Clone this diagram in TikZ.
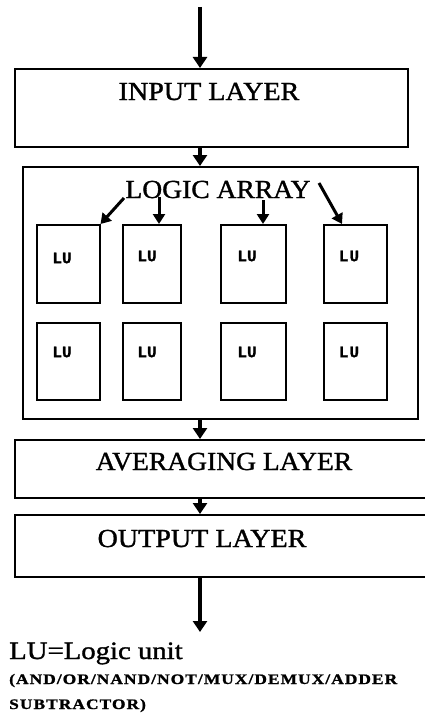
\documentclass[tikz,border=0pt]{standalone}
\usepackage{fontspec}
\setmainfont{Liberation Serif}
\newfontfamily\heavyserif{Liberation Serif}[FakeBold=1.2]
\newfontfamily\blackserif{Liberation Serif}[UprightFont={* Bold}, FakeBold=1.2]
\newfontfamily\lumono{Liberation Mono}[UprightFont={* Bold}, FakeBold=1.5]
\usetikzlibrary{arrows.meta}

\tikzset{
  panel/.style={draw=black, line width=1.6pt, fill=none, inner sep=0pt, anchor=north west},
  lubox/.style={draw=black, line width=1.5pt, inner sep=0pt, anchor=north west},
  title/.style={anchor=base, inner sep=0pt, font=\heavyserif\fontsize{26}{30}\selectfont},
  lutext/.style={inner sep=0pt, font=\lumono\fontsize{16}{17}\selectfont},
  bigarrow/.style={line width=3.6pt, -{Triangle[width=14pt,length=11pt]}},
  smallarrow/.style={line width=3pt, -{Triangle[width=12pt,length=10pt]}},
  legendline/.style={anchor=base west, inner sep=0pt, font=\blackserif\fontsize{14.5}{16}\selectfont},
}

\begin{document}
\begin{tikzpicture}[x=1pt, y=-1pt]
  \useasboundingbox (0,0) rectangle (424,717);

  % layer boxes
  \node[panel, minimum width=393pt, minimum height=78pt] (input) at (14,68) {};
  \node[panel, minimum width=395pt, minimum height=252pt] (logic) at (22,166) {};
  \node[panel, minimum width=430pt, minimum height=58pt] (avg) at (14,439) {};
  \node[panel, minimum width=430pt, minimum height=62pt] (output) at (14,514) {};

  % layer titles
  \node[title] (inputlbl) at (209,100) {\scalebox{1.08}[1]{INPUT LAYER}};
  \node[title] (logiclbl) at (218,198) {\scalebox{1.06}[1]{LOGIC ARRAY}};
  \node[title] (avglbl) at (224,470) {\scalebox{1.06}[1]{AVERAGING LAYER}};
  \node[title] (outlbl) at (202,547) {\scalebox{1.08}[1]{OUTPUT LAYER}};

  % logic units, two rows of four
  \node[lubox, minimum width=63pt, minimum height=78pt] (lua) at (36,224) {};
  \node[lubox, minimum width=58pt, minimum height=78pt] (lub) at (122,224) {};
  \node[lubox, minimum width=65pt, minimum height=78pt] (luc) at (220,224) {};
  \node[lubox, minimum width=63pt, minimum height=78pt] (lud) at (323,224) {};
  \node[lubox, minimum width=63pt, minimum height=77pt] (lue) at (36,322) {};
  \node[lubox, minimum width=58pt, minimum height=77pt] (luf) at (122,322) {};
  \node[lubox, minimum width=65pt, minimum height=77pt] (lug) at (220,322) {};
  \node[lubox, minimum width=63pt, minimum height=77pt] (luh) at (323,322) {};

  \node[lutext] (ta) at (62,258) {LU};
  \node[lutext] (tb) at (147,256) {LU};
  \node[lutext] (tc) at (247,256) {LU};
  \node[lutext] (td) at (349,256) {L\kern1pt U};
  \node[lutext] (te) at (62,352) {LU};
  \node[lutext] (tf) at (147,352) {LU};
  \node[lutext] (tg) at (247,352) {LU};
  \node[lutext] (th) at (349,352) {L\kern1pt U};

  % main flow
  \coordinate (flow) at (200,7);
  \coordinate (exit) at (200,632);
  \draw[bigarrow] (flow) -- (flow |- input.north);
  \draw[bigarrow] (input.south -| flow) -- (logic.north -| flow);
  \draw[bigarrow] (logic.south -| flow) -- (avg.north -| flow);
  \draw[bigarrow] (avg.south -| flow) -- (output.north -| flow);
  \draw[bigarrow] (output.south -| flow) -- (exit);

  % distribution from the array title to the units
  \coordinate (sa) at (124,198);
  \coordinate (sb) at (159,197);
  \coordinate (sc) at (263,200);
  \coordinate (sd) at (319,183);
  \coordinate (ed) at (342,224);
  \draw[smallarrow] (sa) -- (lua.north east);
  \draw[smallarrow] (sb) -- (sb |- lub.north);
  \draw[smallarrow] (sc) -- (sc |- luc.north);
  \draw[smallarrow] (sd) -- (ed);

  % legend
  \node[anchor=base west, inner sep=0pt, font=\heavyserif\fontsize{25}{28}\selectfont] (legend) at (9,659)
    {\scalebox{1.15}[1]{LU=Logic unit}};
  \node[legendline] (ops) at (9,684)
    {\scalebox{1.2}[1]{\addfontfeature{LetterSpace=6}(AND/OR/NAND/NOT/MUX/DEMUX/ADDER}};
  \node[legendline] (ops2) at (9,709)
    {\scalebox{1.2}[1]{\addfontfeature{LetterSpace=6}SUBTRACTOR)}};
\end{tikzpicture}
\end{document}
